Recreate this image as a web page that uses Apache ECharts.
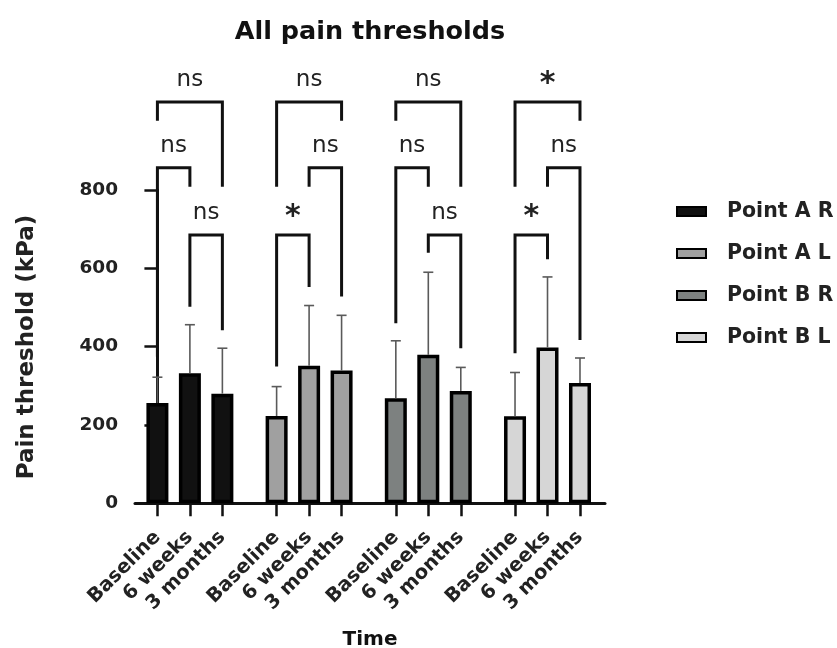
<!DOCTYPE html>
<html><head><meta charset="utf-8">
<script src="https://cdn.jsdelivr.net/npm/echarts@6/dist/echarts.min.js"></script>
<style>html,body{margin:0;padding:0;background:#fff}#c{width:837px;height:648px}</style>
</head><body><div id="c"></div>
<script>
// ---- data ----
const seriesNames = ['Point A R', 'Point A L', 'Point B R', 'Point B L'];
const timeLabels = ['Baseline', '6 weeks', '3 months'];
const meanAR = [256, 332, 280];
const sdAR   = [66, 124, 116];
const meanAL = [223, 351, 339];
const sdAL   = [75, 154, 141];
const meanBR = [268, 379, 287];
const sdBR   = [147, 211, 60];
const meanBL = [222, 398, 307];
const sdBL   = [112, 180, 64];
const yTicks = [0, 200, 400, 600, 800];
// significance brackets (group, from time, to time, label, bracket level, leg ends in kPa)
const brGroup   = [0, 0, 0, 1, 1, 1, 2, 2, 2, 3, 3, 3];
const brFrom    = [1, 0, 0, 0, 1, 0, 1, 0, 0, 0, 1, 0];
const brTo      = [2, 1, 2, 1, 2, 2, 2, 1, 2, 1, 2, 2];
const brLabel   = ['ns', 'ns', 'ns', '*', 'ns', 'ns', 'ns', 'ns', 'ns', '*', 'ns', '*'];
const brLevel   = [685, 857, 1025, 685, 857, 1025, 685, 857, 1025, 685, 857, 1025];
const brLegFrom = [502, 374, 977, 349, 808, 808, 640, 460, 977, 383, 808, 808];
const brLegTo   = [442, 808, 808, 552, 528, 977, 396, 808, 808, 623, 417, 977];

// ---- layout/style ----
const means = [meanAR, meanAL, meanBR, meanBL];
const sds = [sdAR, sdAL, sdBR, sdBL];
const fills = ['#111111', '#a0a0a0', '#7d8180', '#d6d6d6'];
const GROUP_STEP = 3.67;
const xPos = (g, i) => g * GROUP_STEP + i;
const positions = [];
for (let g = 0; g < 4; g++) for (let i = 0; i < 3; i++) positions.push(xPos(g, i));
const FONT = 'DejaVu Sans';

const barSeries = seriesNames.map((name, g) => ({
  type: 'bar', name: name,
  data: means[g].map((m, i) => [xPos(g, i), m]),
  barWidth: 22, barGap: '-100%',
  itemStyle: { color: fills[g], borderColor: '#000', borderWidth: 3.5 },
  z: 2
}));

const errData = [];
for (let g = 0; g < 4; g++) for (let i = 0; i < 3; i++) errData.push([xPos(g, i), means[g][i], means[g][i] + sds[g][i]]);

const errSeries = {
  type: 'custom', name: 'err', data: errData, z: 3,
  encode: { x: 0, y: 2 },
  renderItem: (params, api) => {
    const x = api.value(0);
    const p0 = api.coord([x, api.value(1)]);
    const p1 = api.coord([x, api.value(2)]);
    const st = { stroke: '#5a5a5a', lineWidth: 1.6 };
    return { type: 'group', children: [
      { type: 'line', shape: { x1: p0[0], y1: p0[1], x2: p1[0], y2: p1[1] }, style: st },
      { type: 'line', shape: { x1: p1[0] - 5, y1: p1[1], x2: p1[0] + 5, y2: p1[1] }, style: st }
    ]};
  }
};

const brData = brLevel.map((lv, k) => [(xPos(brGroup[k], brFrom[k]) + xPos(brGroup[k], brTo[k])) / 2, lv]);
const brSeries = {
  type: 'custom', name: 'brackets', data: brData, z: 4, clip: false,
  encode: { x: 0, y: 1 },
  renderItem: (params, api) => {
    const k = params.dataIndex;
    const xa = xPos(brGroup[k], brFrom[k]);
    const xb = xPos(brGroup[k], brTo[k]);
    const a0 = api.coord([xa, brLegFrom[k]]);
    const a1 = api.coord([xa, brLevel[k]]);
    const b1 = api.coord([xb, brLevel[k]]);
    const b0 = api.coord([xb, brLegTo[k]]);
    const star = brLabel[k] === '*';
    return { type: 'group', children: [
      { type: 'polyline', shape: { points: [a0, a1, b1, b0] },
        style: { stroke: '#111', lineWidth: 3, fill: null, lineJoin: 'miter' } },
      { type: 'text', x: (a1[0] + b1[0]) / 2, y: a1[1] - (star ? 18 : 22),
        style: { text: brLabel[k], fill: '#222', align: 'center', verticalAlign: 'middle',
          font: (star ? 'bold 30px ' : '23px ') + FONT } }
    ]};
  }
};

const chart = echarts.init(document.getElementById('c'), null, { renderer: 'canvas' });
chart.setOption({
  backgroundColor: '#ffffff',
  animation: false,
  title: {
    text: 'All pain thresholds', left: 365, top: 14, textAlign: 'center',
    textStyle: { fontFamily: FONT, fontWeight: 'bold', fontSize: 25.5, color: '#111' }
  },
  legend: {
    orient: 'vertical', left: 676, top: 201, padding: 0, itemWidth: 29, itemHeight: 9, itemGap: 21,
    icon: 'rect', data: seriesNames,
    textStyle: { fontFamily: FONT, fontWeight: 'bold', fontSize: 20.5, color: '#222', lineHeight: 20, padding: [0, 0, 0, 16] }
  },
  grid: { left: 135, right: 232, top: 190, bottom: 144.7, outerBoundsMode: 'none', containLabel: false },
  xAxis: {
    type: 'value', min: -0.69, max: 13.78,
    splitLine: { show: false },
    axisLine: { show: true, lineStyle: { color: '#111', width: 3 } },
    axisTick: { show: true, customValues: positions, length: 13, lineStyle: { color: '#111', width: 2.5 } },
    axisLabel: {
      customValues: positions, rotate: 45, margin: 31,
      fontFamily: FONT, fontWeight: 'bold', fontSize: 19.5, color: '#222',
      formatter: v => {
        const idx = positions.findIndex(p => Math.abs(p - v) < 1e-6);
        return idx >= 0 ? timeLabels[idx % 3] : '';
      }
    },
    name: 'Time', nameLocation: 'middle', nameGap: 126,
    nameTextStyle: { fontFamily: FONT, fontWeight: 'bold', fontSize: 20, color: '#111' }
  },
  yAxis: {
    type: 'value', min: 0, max: 800, interval: 200,
    splitLine: { show: false },
    axisLine: { show: true, lineStyle: { color: '#111', width: 3 } },
    axisTick: { show: true, length: 13, lineStyle: { color: '#111', width: 2.5 } },
    axisLabel: { margin: 17, fontFamily: FONT, fontWeight: 'bold', fontSize: 18.5, color: '#222' }
  },
  graphic: [{
    type: 'text', x: 27, y: 347, rotation: Math.PI / 2,
    style: { text: 'Pain threshold (kPa)', align: 'center', verticalAlign: 'middle',
      font: 'bold 23px ' + FONT, fill: '#222' }
  }],
  series: barSeries.concat([errSeries, brSeries])
});
</script></body></html>
